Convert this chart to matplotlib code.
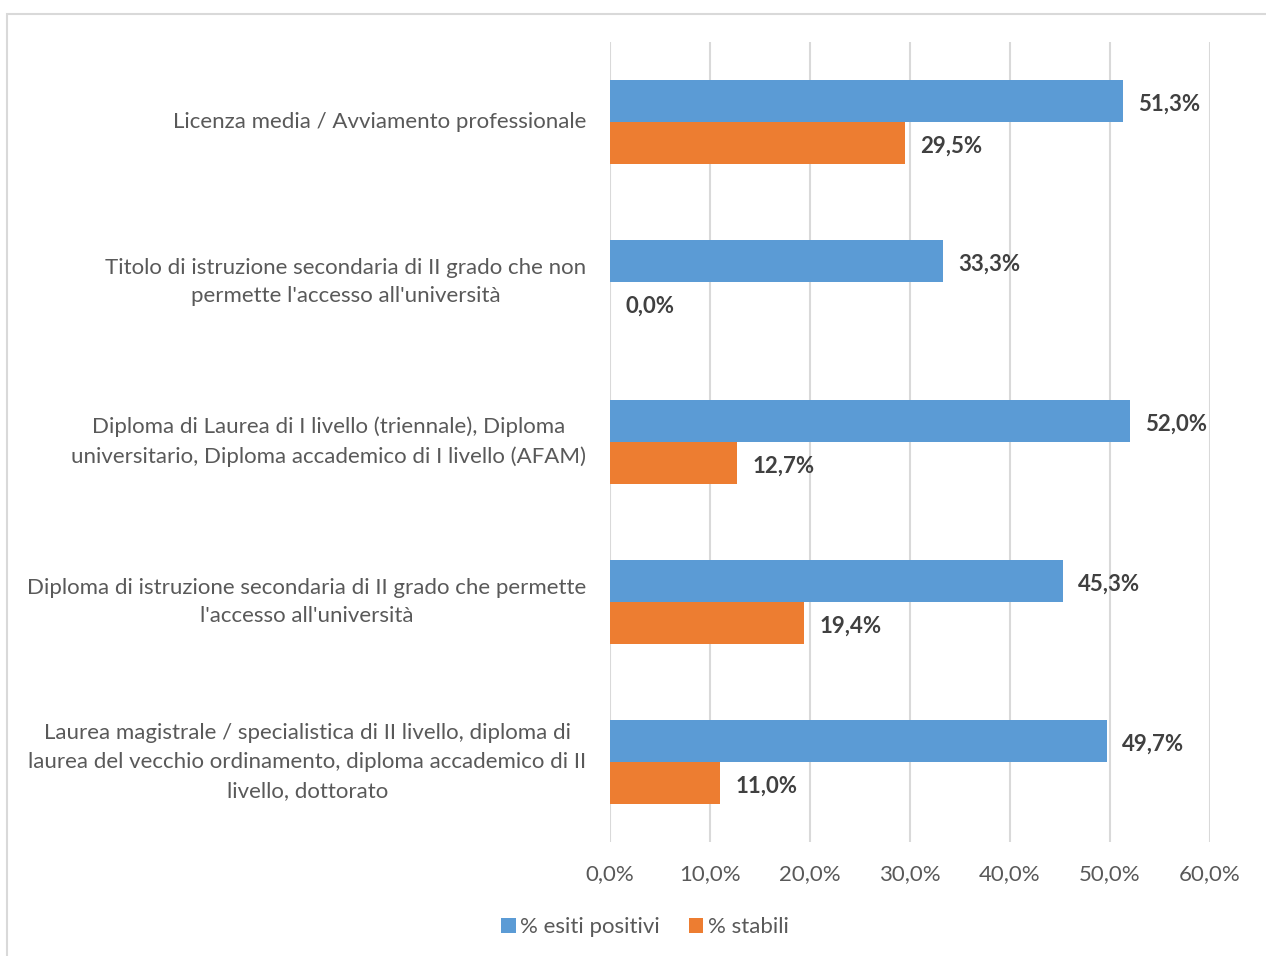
import matplotlib.pyplot as plt
from matplotlib.patches import Rectangle
import numpy as np

plt.rcParams['font.family'] = ['Lato', 'DejaVu Sans']

# Titoli di studio (dall'alto verso il basso)
categorie = [
    "Licenza media / Avviamento professionale",
    "Titolo di istruzione secondaria di II grado che non\npermette l'accesso all'università",
    "Diploma di Laurea di I livello (triennale), Diploma\nuniversitario, Diploma accademico di I livello (AFAM)",
    "Diploma di istruzione secondaria di II grado che permette\nl'accesso all'università",
    "Laurea magistrale / specialistica di II livello, diploma di\nlaurea del vecchio ordinamento, diploma accademico di II\nlivello, dottorato",
]
esiti_positivi = [51.3, 33.3, 52.0, 45.3, 49.7]
stabili = [29.5, 0.0, 12.7, 19.4, 11.0]
ticks = [0, 10, 20, 30, 40, 50, 60]

W, H = 1266, 956
fs = 16
fig = plt.figure(figsize=(W / 100, H / 100), dpi=100)
fig.patches.append(Rectangle((7 / W, -0.1), 1.2, 1.1 - 14 / H, transform=fig.transFigure,
                             fill=False, edgecolor='#d9d9d9', linewidth=1.5))
ax = fig.add_axes([610 / W, 1 - 842 / H, 600 / W, 800 / H])

blu = '#5b9bd5'
arancio = '#ed7d31'
y = np.arange(len(categorie))
h = 0.2625
b1 = ax.barh(y - h / 2, esiti_positivi, height=h, color=blu, label='% esiti positivi', zorder=3)
b2 = ax.barh(y + h / 2, stabili, height=h, color=arancio, label='% stabili', zorder=3)

for bars, vals in ((b1, esiti_positivi), (b2, stabili)):
    for bar, v in zip(bars, vals):
        ax.annotate(f"{v:.1f}%".replace('.', ','),
                    (v, bar.get_y() + bar.get_height() / 2),
                    xytext=(11, -2), textcoords='offset points',
                    va='center', ha='left', fontsize=fs, fontweight='bold', color='#404040')

ax.set_xlim(0, 60)
ax.set_ylim(len(categorie) - 0.5, -0.5)
ax.set_xticks(ticks)
ax.set_xticklabels([f"{t:.1f}%".replace('.', ',') for t in ticks])
ax.set_yticks(y)
ax.set_yticklabels(categorie, multialignment='center', linespacing=1.55, va='center')
ax.tick_params(axis='both', length=0, labelsize=fs, labelcolor='#595959')
ax.tick_params(axis='y', pad=17)
ax.tick_params(axis='x', pad=16)
ax.grid(axis='x', color='#d9d9d9', linewidth=1.5, zorder=0)
for s in ax.spines.values():
    s.set_visible(False)

ax.legend(loc='center', bbox_to_anchor=(645 / W, 1 - 927 / H), bbox_transform=fig.transFigure,
          ncol=2, frameon=False, fontsize=fs, handlelength=0.65, handleheight=0.65,
          handletextpad=0.2, columnspacing=1.3, labelcolor='#595959')

fig.savefig('out.png', dpi=100, facecolor='white')
